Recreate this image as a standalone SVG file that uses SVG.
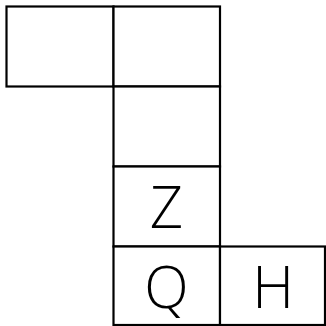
<svg xmlns="http://www.w3.org/2000/svg" width="326" height="326" viewBox="0 0 326 326">
<style>
.box{fill:#fff;stroke:#000;stroke-width:2.2}
.lbl{font-family:"Open Sans","Liberation Sans",sans-serif;font-weight:300;font-size:58px;text-anchor:middle;dominant-baseline:central;fill:#000}
</style>
<rect width="326" height="326" fill="#fff"/>
<g id="n1"><rect class="box" x="6.5" y="6.5" width="107" height="80"/></g>
<g id="n2"><rect class="box" x="113.5" y="6.5" width="106.5" height="80"/></g>
<g id="n3"><rect class="box" x="113.5" y="86.5" width="106.5" height="80"/></g>
<g id="n4"><rect class="box" x="113.5" y="166.5" width="106.5" height="80"/><text class="lbl" x="166.5" y="205">Z</text></g>
<g id="n5"><rect class="box" x="113.5" y="246.5" width="106.5" height="78.5"/><text class="lbl" x="166.5" y="285">Q</text></g>
<g id="n6"><rect class="box" x="220" y="246.5" width="105" height="78.5"/><text class="lbl" x="273" y="285">H</text></g>
<g id="connectors"></g>
</svg>
